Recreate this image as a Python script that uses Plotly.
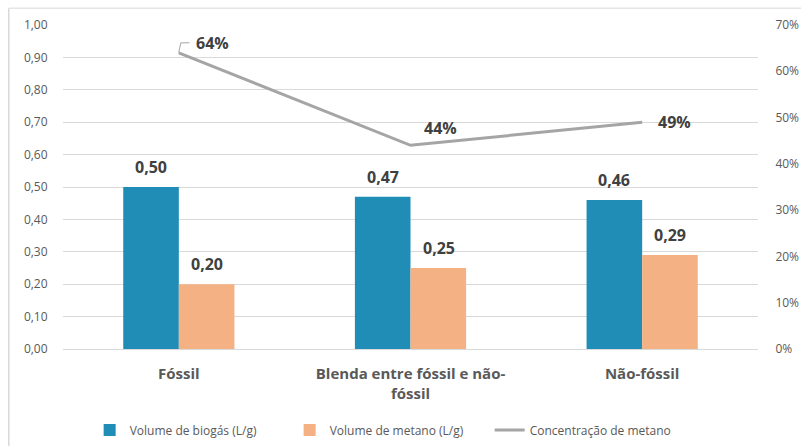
import plotly.graph_objects as go

categorias = ["Fóssil", "Blenda entre fóssil e não-<br>fóssil", "Não-fóssil"]
volume_biogas = [0.50, 0.47, 0.46]
volume_metano = [0.20, 0.25, 0.29]
concentracao_metano = [0.64, 0.44, 0.49]

azul = "#1F8DB6"
laranja = "#F4B183"
cinza = "#A5A5A5"
texto_escuro = "#404040"
texto_eixo = "#595959"
fonte = "Open Sans"

fig = go.Figure()

fig.add_trace(go.Bar(
    x=categorias, y=volume_biogas, name="Volume de biogás (L/g)",
    marker=dict(color=azul, line=dict(width=0)),
))
fig.add_trace(go.Bar(
    x=categorias, y=volume_metano, name="Volume de metano (L/g)",
    marker=dict(color=laranja, line=dict(width=0)),
))
fig.add_trace(go.Scatter(
    x=categorias, y=concentracao_metano, name="Concentração de metano",
    mode="lines", line=dict(color=cinza, width=3), yaxis="y2",
))

anotacoes = []
# rótulos das barras
for serie, desloc in ((volume_biogas, -28), (volume_metano, 28)):
    for cat, v in zip(categorias, serie):
        anotacoes.append(dict(
            x=cat, y=v, xref="x", yref="y", text=f"{v:.2f}".replace(".", ","),
            showarrow=False, xshift=desloc, yshift=20,
            font=dict(family=fonte, size=16, color=texto_escuro, weight="bold"),
        ))

# rótulos da linha de concentração
posicoes = [(34, 10), (30, 17), (32, 0)]
for i, (cat, v) in enumerate(zip(categorias, concentracao_metano)):
    dx, dy = posicoes[i]
    anotacoes.append(dict(
        x=cat, y=v, xref="x", yref="y2", text=f"{v*100:.0f}%",
        showarrow=False, xshift=dx, yshift=dy,
        font=dict(family=fonte, size=16, color=texto_escuro, weight="bold"),
    ))

fig.update_layout(
    width=801, height=446,
    margin=dict(l=63, r=43, t=25, b=97, autoexpand=False),
    paper_bgcolor="white", plot_bgcolor="white",
    separators=",.",
    barmode="group", bargap=0.52, bargroupgap=0,
    font=dict(family=fonte, color=texto_eixo),
    showlegend=True,
    legend=dict(
        orientation="h", x=0.47, xanchor="center",
        yref="container", y=0.036, yanchor="middle",
        font=dict(family=fonte, size=12, color=texto_eixo),
        itemwidth=30, entrywidth=155, traceorder="normal",
    ),
    xaxis=dict(
        showgrid=False, showline=True, linecolor="#D9D9D9", linewidth=1,
        tickfont=dict(family=fonte, size=15, color=texto_eixo, weight="bold"),
        ticks="", ticklabelstandoff=11, fixedrange=True, automargin=False,
    ),
    yaxis=dict(
        range=[0, 1.0], dtick=0.1, tickformat=".2f",
        showgrid=True, gridcolor="#D9D9D9", gridwidth=1, zeroline=False,
        tickfont=dict(family=fonte, size=12, color=texto_eixo),
        ticks="outside", ticklen=12, tickcolor="rgba(0,0,0,0)", automargin=False,
    ),
    yaxis2=dict(
        range=[0, 0.7], dtick=0.1, tickformat=".0%", overlaying="y", side="right",
        showgrid=False, zeroline=False,
        tickfont=dict(family=fonte, size=12, color=texto_eixo),
        ticks="outside", ticklen=14, tickcolor="rgba(0,0,0,0)", automargin=False,
    ),
    annotations=anotacoes,
    shapes=[
        dict(type="line", xref="paper", yref="paper", x0=-0.078, x1=1.1, y0=1.052, y1=1.052,
             line=dict(color="#D9D9D9", width=1)),
        dict(type="line", xref="paper", yref="paper", x0=-0.078, x1=-0.078, y0=1.052, y1=-0.4,
             line=dict(color="#D9D9D9", width=1.5)),
        # linha de chamada do rótulo 64%
        dict(type="path", xref="paper", yref="paper",
             path="M 0.1665 0.915 L 0.1695 0.945 L 0.182 0.945",
             line=dict(color=cinza, width=1)),
    ],
)

fig.write_html("out.html")
